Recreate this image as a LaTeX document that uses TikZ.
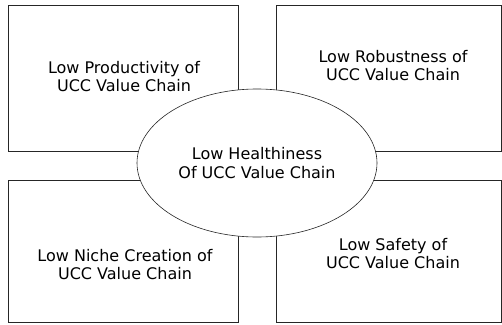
\documentclass[tikz,border=0pt]{standalone}
\usepackage{fontspec}
\setmainfont{DejaVu Sans}
\usetikzlibrary{shapes.geometric}

\begin{document}
\begin{tikzpicture}[x=1pt,y=-1pt,
        cell/.style={draw=black!85,line width=0.6pt,inner sep=0pt},
        celltext/.style={align=center,inner sep=0pt,font=\fontsize{16}{18}\selectfont},
        hub/.style={ellipse,draw=black!85,line width=0.6pt,fill=white,inner sep=0pt,align=center,
            font=\fontsize{16}{19}\selectfont,minimum width=240pt,minimum height=148pt}]
        \useasboundingbox (0,0) rectangle (502,324);
        \node[cell,minimum width=230pt,minimum height=146pt] (prodbox) at (123,78) {};
        \node[cell,minimum width=225pt,minimum height=146pt] (robbox) at (388.5,78) {};
        \node[cell,minimum width=230pt,minimum height=142pt] (nichebox) at (123,251) {};
        \node[cell,minimum width=225pt,minimum height=142pt] (safebox) at (388.5,251) {};
        \node[celltext] (prodtext) at (124,77) {Low Productivity of\\UCC Value Chain};
        \node[celltext] (robtext) at (393,66) {Low Robustness of\\UCC Value Chain};
        \node[celltext] (nichetext) at (125,265) {Low Niche Creation of\\UCC Value Chain};
        \node[celltext] (safetext) at (393,254) {Low Safety of\\UCC Value Chain};
        \node[hub] (health) at (257,163) {Low Healthiness\\Of UCC Value Chain};
    \end{tikzpicture}
\end{document}
